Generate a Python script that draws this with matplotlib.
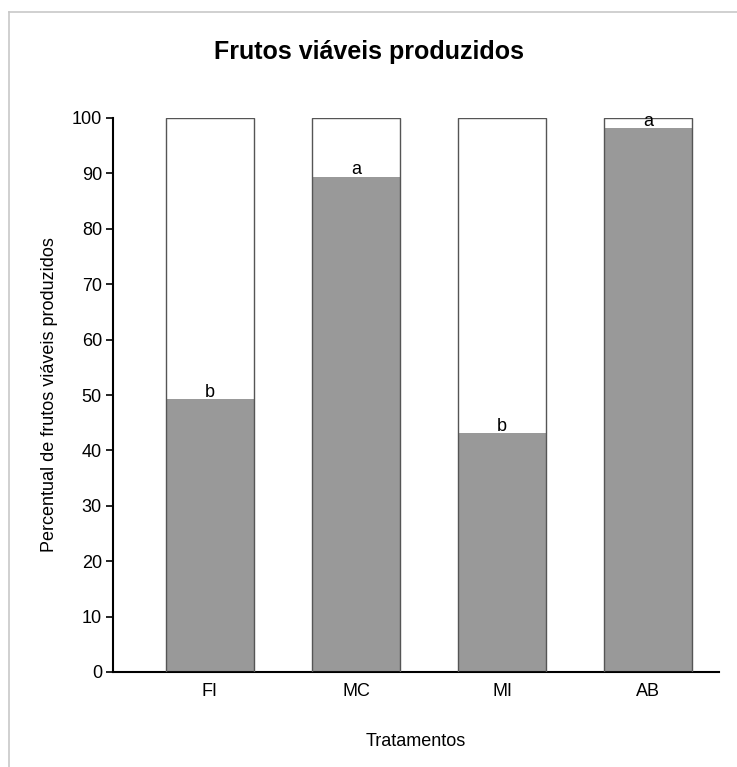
import matplotlib
matplotlib.use('Agg')
import matplotlib.pyplot as plt
from matplotlib.lines import Line2D

plt.rcParams['font.family'] = ['Liberation Sans', 'DejaVu Sans']

tratamentos = ['FI', 'MC', 'MI', 'AB']
viaveis = [49.3, 89.4, 43.1, 98.2]
letras = ['b', 'a', 'b', 'a']

W, H = 737, 767
fig = plt.figure(figsize=(W / 100, H / 100), dpi=100)
ax = fig.add_axes([113 / W, (H - 672) / H, (719 - 113) / W, (672 - 118) / H])

x = list(range(len(tratamentos)))
ax.bar(x, [100] * len(x), width=0.6, color='white', edgecolor='none', zorder=1)
ax.bar(x, viaveis, width=0.6, color='#999999', edgecolor='none', zorder=2)
ax.bar(x, [100] * len(x), width=0.6, fill=False, edgecolor='#555555', linewidth=1.0, zorder=3)

for xi, v, l in zip(x, viaveis, letras):
    ax.text(xi, v - 0.3, l, ha='center', va='bottom', fontsize=13, zorder=4)

ax.set_xlim(-0.664, 3.486)
ax.set_ylim(0, 100)
ax.set_yticks(range(0, 101, 10))
ax.set_xticks(x)
ax.set_xticklabels(tratamentos)
ax.tick_params(axis='y', direction='out', length=5, width=1.2, labelsize=13, pad=3)
ax.tick_params(axis='x', length=0, labelsize=13, pad=8)
for s in ['top', 'right']:
    ax.spines[s].set_visible(False)
for s in ['left', 'bottom']:
    ax.spines[s].set_linewidth(1.5)

ax.set_ylabel('Percentual de frutos viáveis produzidos', fontsize=13, labelpad=10)
ax.set_xlabel('Tratamentos', fontsize=13, labelpad=24)
fig.text(0.5, 1 - 52 / H, 'Frutos viáveis produzidos', ha='center', va='center',
         fontsize=18, fontweight='bold')

# light frame around the picture (only top and left are visible)
fig.add_artist(Line2D([9 / W, 1], [1 - 12 / H, 1 - 12 / H], color='#c8c8c8', lw=1.2))
fig.add_artist(Line2D([9 / W, 9 / W], [0, 1 - 12 / H], color='#c8c8c8', lw=1.2))

fig.savefig('out.png', dpi=100)
